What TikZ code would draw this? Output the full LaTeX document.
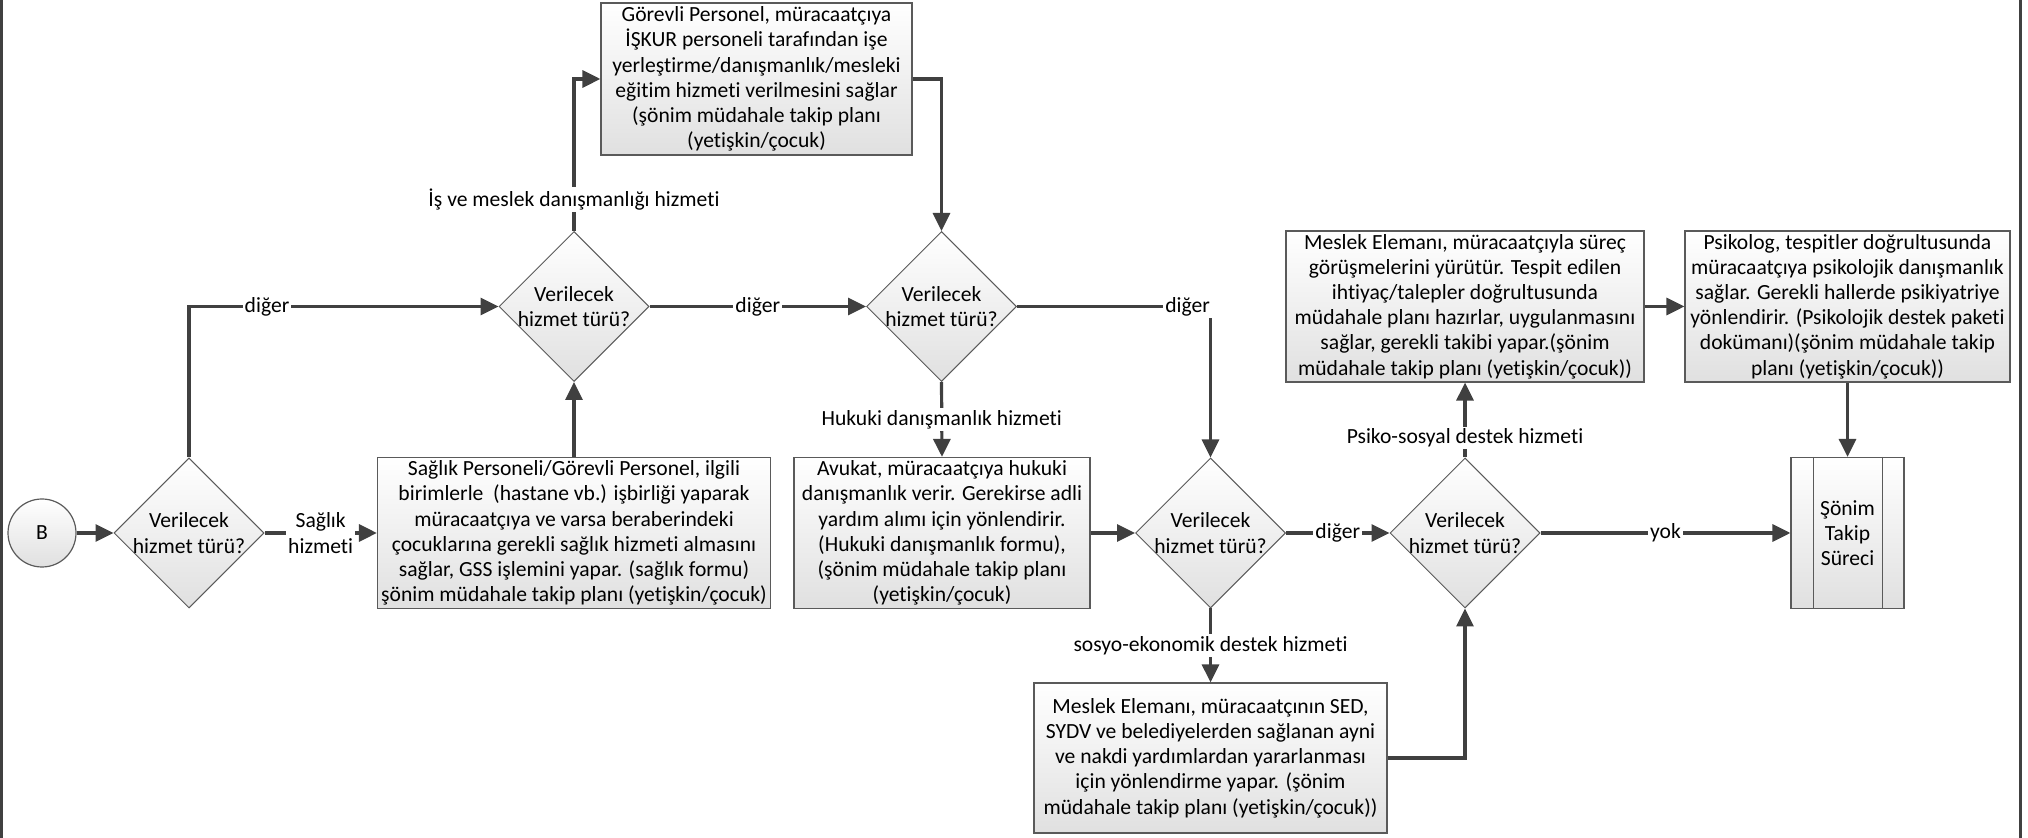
\documentclass[tikz,border=0pt]{standalone}
\usepackage{fontspec}
\setmainfont{Carlito}[Ligatures=NoCommon]
\usetikzlibrary{shapes.geometric,arrows.meta}
\definecolor{linec}{HTML}{404040}
\definecolor{edgec}{HTML}{5A5A5A}
\definecolor{shadec}{HTML}{E0E0E0}
\tikzset{
  txt/.style={font=\fontsize{10.8}{12.6}\selectfont},
  box/.style={txt, draw=edgec, line width=0.6pt, top color=white, bottom color=shadec, inner sep=0pt, align=center},
  dia/.style={diamond, draw=edgec, line width=0.5pt, top color=white, bottom color=shadec, minimum width=75pt, minimum height=75pt, inner sep=0pt, aspect=1},
  diatext/.style={txt, align=center, inner sep=0pt},
  conn/.style={draw=linec, line width=1.6pt, -{Triangle[length=9pt,width=8.5pt]}},
  lbl/.style={txt, fill=white, inner sep=1pt, align=center},
  frameline/.style={draw=linec, line width=1.5pt},
}
\begin{document}
\begin{tikzpicture}[x=0.5pt,y=-0.5pt]
\useasboundingbox (0,0) rectangle (2028,838);
\draw[frameline] (1.5,0) -- (1.5,838);
\draw[frameline] (2020.5,0) -- (2020.5,838);

% start
\node[txt, circle, draw=edgec, line width=0.6pt, top color=white, bottom color=shadec, minimum size=34pt, inner sep=0pt] (b) at (42,533) {B};

% decisions
\node[dia, label={[diatext]center:Verilecek\\hizmet türü?}] (d1) at (189,533) {};
\node[dia, label={[diatext]center:Verilecek\\hizmet türü?}] (d2) at (574,306.5) {};
\node[dia, label={[diatext]center:Verilecek\\hizmet türü?}] (d3) at (941.5,306.5) {};
\node[dia, label={[diatext]center:Verilecek\\hizmet türü?}] (d4) at (1210.5,533) {};
\node[dia, label={[diatext]center:Verilecek\\hizmet türü?}] (d5) at (1465,533) {};

% process boxes
\node[box, minimum width=155.5pt, minimum height=76pt] (g) at (756.5,79)
  {Görevli Personel, müracaatçıya\\İŞKUR personeli tarafından işe\\yerleştirme/danışmanlık/mesleki\\eğitim hizmeti verilmesini sağlar\\(şönim müdahale takip planı\\(yetişkin/çocuk)};
\node[box, minimum width=196.5pt, minimum height=75.5pt] (s1) at (574,533)
  {Sağlık Personeli/Görevli Personel, ilgili\\birimlerle~ (hastane vb.) işbirliği yaparak\\müracaatçıya ve varsa beraberindeki\\çocuklarına gerekli sağlık hizmeti almasını\\sağlar, GSS işlemini yapar. (sağlık formu)\\şönim müdahale takip planı (yetişkin/çocuk)};
\node[box, minimum width=148pt, minimum height=75.5pt] (h) at (942,533)
  {Avukat, müracaatçıya hukuki\\danışmanlık verir. Gerekirse adli\\yardım alımı için yönlendirir.\\(Hukuki danışmanlık formu),\\(şönim müdahale takip planı\\(yetişkin/çocuk)};
\node[box, minimum width=176.5pt, minimum height=75pt] (se) at (1210.5,758)
  {Meslek Elemanı, müracaatçının SED,\\SYDV ve belediyelerden sağlanan ayni\\ve nakdi yardımlardan yararlanması\\için yönlendirme yapar. (şönim\\müdahale takip planı (yetişkin/çocuk))};
\node[box, minimum width=179pt, minimum height=75.5pt] (m) at (1465,306.5)
  {Meslek Elemanı, müracaatçıyla süreç\\görüşmelerini yürütür. Tespit edilen\\ihtiyaç/talepler doğrultusunda\\müdahale planı hazırlar, uygulanmasını\\sağlar, gerekli takibi yapar.(şönim\\müdahale takip planı (yetişkin/çocuk))};
\node[box, minimum width=162.5pt, minimum height=75.5pt] (p) at (1847.5,306.5)
  {Psikolog, tespitler doğrultusunda\\müracaatçıya psikolojik danışmanlık\\sağlar. Gerekli hallerde psikiyatriye\\yönlendirir. (Psikolojik destek paketi\\dokümanı)(şönim müdahale takip\\planı (yetişkin/çocuk))};
\node[box, minimum width=56.5pt, minimum height=75.5pt] (s5) at (1847.5,533) {Şönim\\Takip\\Süreci};
\draw[draw=edgec, line width=0.6pt] ([xshift=11.5pt]s5.north west) -- ([xshift=11.5pt]s5.south west);
\draw[draw=edgec, line width=0.6pt] ([xshift=-11pt]s5.north east) -- ([xshift=-11pt]s5.south east);

% connectors
\draw[conn] (b.east) -- (d1.west);
\draw[conn] (d1.east) -- node[lbl]{Sağlık\\hizmeti} (s1.west);
\draw[conn] (d1.north) |- node[lbl,pos=0.626]{diğer} (d2.west);
\draw[conn] (s1.north) -- (d2.south);
\draw[conn] (d2.north) |- node[lbl,pos=0.103]{İş ve meslek danışmanlığı hizmeti} (g.west);
\draw[conn] (g.east) -| (d3.north);
\draw[conn] (d2.east) -- node[lbl]{diğer} (d3.west);
\draw[conn] (d3.east) -| node[lbl,pos=0.5,anchor=east,xshift=1.5pt]{diğer} (d4.north);
\draw[conn] (d3.south) -- node[lbl]{Hukuki danışmanlık hizmeti} (h.north);
\draw[conn] (h.east) -- (d4.west);
\draw[conn] (d4.east) -- node[lbl]{diğer} (d5.west);
\draw[conn] (d4.south) -- node[lbl]{sosyo-ekonomik destek hizmeti} (se.north);
\draw[conn] (se.east) -| (d5.south);
\draw[conn] (d5.north) -- node[lbl,pos=0.26]{Psiko-sosyal destek hizmeti} (m.south);
\draw[conn] (m.east) -- (p.west);
\draw[conn] (p.south) -- (s5.north);
\draw[conn] (d5.east) -- node[lbl]{yok} (s5.west);
\end{tikzpicture}
\end{document}
